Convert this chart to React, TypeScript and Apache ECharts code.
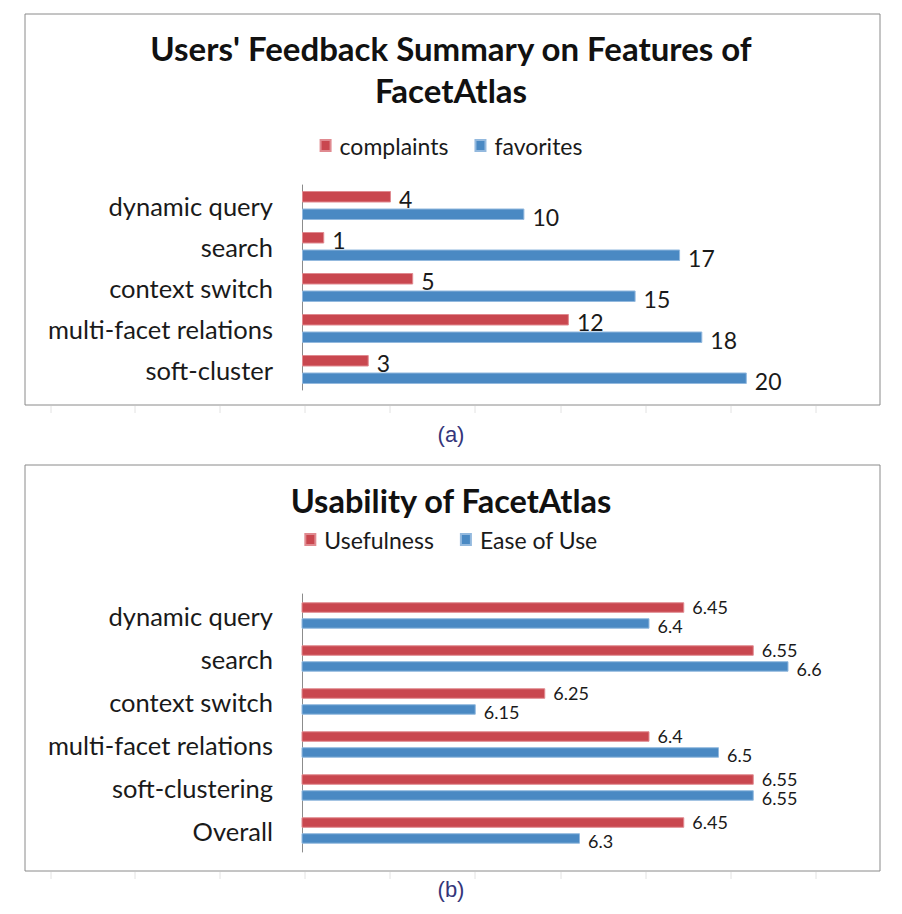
import React, { useEffect, useRef } from "react";
import * as echarts from "echarts";

const categoriesA = ["dynamic query", "search", "context switch", "multi-facet relations", "soft-cluster"];
const complaints = [4, 1, 5, 12, 3];
const favorites = [10, 17, 15, 18, 20];

const categoriesB = ["dynamic query", "search", "context switch", "multi-facet relations", "soft-clustering", "Overall"];
const usefulness = [6.45, 6.55, 6.25, 6.4, 6.55, 6.45];
const easeOfUse = [6.4, 6.6, 6.15, 6.5, 6.55, 6.3];

const RED = "#C9474F";
const BLUE = "#4A89C3";
const FONT = "Lato, 'Noto Sans', sans-serif";

const sheetTicksX = [51, 135, 220, 305, 390, 475, 561, 646, 731, 816];

export default function App() {
  const ref = useRef<HTMLDivElement>(null);
  useEffect(() => {
    if (!ref.current) return;
    const chart = echarts.init(ref.current, null, { renderer: "svg" });

    const tickGraphics: any[] = [];
    [405, 871].forEach((y) => {
      sheetTicksX.forEach((x) => {
        tickGraphics.push({
          type: "line",
          shape: { x1: x, y1: y + 1, x2: x, y2: y + 8 },
          style: { stroke: "#e2e2e2", lineWidth: 1 },
          silent: true,
        });
      });
    });

    const catAxis = (data: string[], gridIndex: number) => ({
      type: "category",
      gridIndex,
      data,
      inverse: true,
      axisLine: { show: true, lineStyle: { color: "#8c8c8c", width: 1 } },
      axisTick: { show: false },
      axisLabel: { fontFamily: FONT, fontSize: 25.5, color: "#1a1a1a", margin: 29 },
    });

    const valAxis = (min: number, max: number, gridIndex: number) => ({
      type: "value",
      gridIndex,
      min,
      max,
      show: true,
      axisLine: { show: false },
      axisTick: { show: false },
      axisLabel: { show: false },
      splitLine: { show: false },
    });

    const barSeries = (
      name: string,
      data: number[],
      color: string,
      idx: number,
      width: number,
      fontSize: number,
      lineHeight: number,
      offsetY: number,
      border: string
    ) => ({
      type: "bar",
      name,
      data,
      xAxisIndex: idx,
      yAxisIndex: idx,
      barWidth: width,
      barGap: "52%",
      itemStyle: { color, borderColor: border, borderWidth: 1 },
      label: {
        show: true,
        position: "right",
        distance: 8,
        fontFamily: FONT,
        fontSize,
        lineHeight,
        color: "#1a1a1a",
        offset: [0, offsetY],
      },
    });

    chart.setOption({
      animation: false,
      backgroundColor: "#ffffff",
      title: [
        {
          text: "Users' Feedback Summary on Features of\nFacetAtlas",
          left: "center",
          top: 22,
          textStyle: { fontFamily: FONT, fontWeight: "bold", fontSize: 33, color: "#111", lineHeight: 42 },
        },
        {
          text: "Usability of FacetAtlas",
          left: "center",
          top: 479,
          textStyle: { fontFamily: FONT, fontWeight: "bold", fontSize: 32.5, color: "#111" },
        },
        {
          text: "(a)",
          left: "center",
          top: 418,
          textStyle: { fontFamily: "'Liberation Sans', Arial, sans-serif", fontWeight: "normal", fontSize: 22, color: "#35357a" },
        },
        {
          text: "(b)",
          left: "center",
          top: 873,
          textStyle: { fontFamily: "'Liberation Sans', Arial, sans-serif", fontWeight: "normal", fontSize: 22, color: "#35357a" },
        },
      ],
      legend: [
        {
          data: ["complaints", "favorites"],
          left: "center",
          top: 129,
          itemWidth: 10,
          itemHeight: 11,
          itemGap: 26,
          icon: "rect",
          textStyle: { fontFamily: FONT, fontSize: 23, color: "#1a1a1a", padding: [0, 0, 0, 4] },
        },
        {
          data: ["Usefulness", "Ease of Use"],
          left: "center",
          top: 523,
          itemWidth: 10,
          itemHeight: 11,
          itemGap: 26,
          icon: "rect",
          textStyle: { fontFamily: FONT, fontSize: 23, color: "#1a1a1a", padding: [0, 0, 0, 4] },
        },
      ],
      grid: [
        { left: 302, width: 556, top: 185, height: 205, containLabel: false },
        { left: 302, width: 556, top: 594, height: 258, containLabel: false },
      ],
      xAxis: [valAxis(0, 25, 0), valAxis(5.9, 6.7, 1)],
      yAxis: [catAxis(categoriesA, 0), catAxis(categoriesB, 1)],
      series: [
        barSeries("complaints", complaints, RED, 0, 11.5, 23, 18, 2, "#e08a90"),
        barSeries("favorites", favorites, BLUE, 0, 11.5, 23, 18, 3, "#93b9de"),
        barSeries("Usefulness", usefulness, RED, 1, 10.5, 18, 14, -1, "#e08a90"),
        barSeries("Ease of Use", easeOfUse, BLUE, 1, 10.5, 18, 14, 3, "#93b9de"),
      ],
      graphic: [
        {
          type: "rect",
          shape: { x: 25, y: 14, width: 855, height: 391 },
          style: { fill: "none", stroke: "#8a8a8a", lineWidth: 1 },
          silent: true,
        },
        {
          type: "rect",
          shape: { x: 25, y: 465, width: 855, height: 406 },
          style: { fill: "none", stroke: "#8a8a8a", lineWidth: 1 },
          silent: true,
        },
        ...tickGraphics,
      ],
    });

    return () => chart.dispose();
  }, []);

  return (
    <div
      ref={ref}
      style={{ position: "absolute", left: 0, top: 0, width: 902, height: 914, background: "#fff" }}
    />
  );
}
